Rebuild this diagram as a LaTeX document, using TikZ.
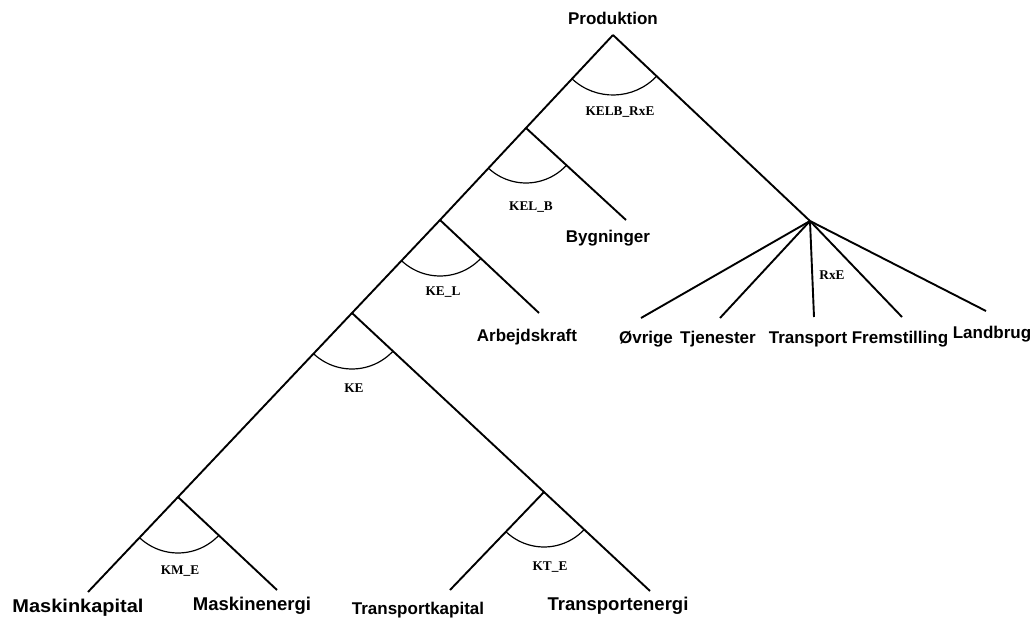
\documentclass[tikz,border=0pt]{standalone}
\usepackage{fontspec}
\setmainfont{Liberation Sans}
\newfontfamily\serifl{Liberation Serif}
\begin{document}
\begin{tikzpicture}[x=1pt,y=-1pt,
  lbl/.style={font=\fontsize{17}{20}\selectfont\bfseries, inner sep=0pt},
  blbl/.style={font=\fontsize{18.5}{21}\selectfont\bfseries, inner sep=0pt},
  rlbl/.style={font=\fontsize{17}{20}\selectfont\bfseries, inner sep=0pt, anchor=base},
  elab/.style={font=\serifl\fontsize{13.3}{15}\selectfont\bfseries, inner sep=0pt},
  branch/.style={line width=1.9pt},
  elast/.style={line width=1.2pt}]
\useasboundingbox (0,0) rectangle (1034,618);
% nests
\coordinate (P) at (613,35);
\coordinate (A) at (526,128);
\coordinate (R) at (810,221);
\coordinate (B) at (440,220);
\coordinate (C) at (352,313);
\coordinate (D) at (178,497);
\coordinate (E) at (544,492);
% leaf ends
\coordinate (byg) at (626,220);
\coordinate (arb) at (539,313);
\coordinate (mk) at (88,592);
\coordinate (me) at (277,590);
\coordinate (tk) at (450,590);
\coordinate (te) at (650,591);
\coordinate (r1) at (641,318);
\coordinate (r2) at (720,318);
\coordinate (r3) at (814,317);
\coordinate (r4) at (902,317);
\coordinate (r5) at (986,311);
% branches
\draw[branch] (P) -- (A) -- (B) -- (C) -- (D) -- (mk);
\draw[branch] (P) -- (R);
\draw[branch] (A) -- (byg);
\draw[branch] (B) -- (arb);
\draw[branch] (C) -- (E) -- (te);
\draw[branch] (D) -- (me);
\draw[branch] (E) -- (tk);
\foreach \e in {r1,r2,r3,r4,r5} \draw[branch] (R) -- (\e);
% elasticity arcs
\draw[elast] ([shift={(43.4:60)}]P) arc[start angle=43.4, end angle=133.3, radius=60];
\draw[elast] ([shift={(43.2:55)}]A) arc[start angle=43.2, end angle=133.3, radius=55];
\draw[elast] ([shift={(43.2:56)}]B) arc[start angle=43.2, end angle=133.3, radius=56];
\draw[elast] ([shift={(43.2:56)}]C) arc[start angle=43.2, end angle=133.3, radius=56];
\draw[elast] ([shift={(43.2:56)}]D) arc[start angle=43.2, end angle=133.3, radius=56];
\draw[elast] ([shift={(43.2:55)}]E) arc[start angle=43.2, end angle=133.5, radius=55];
% labels
\node[lbl] (nprod) at (613,18) {Produktion};
\node[lbl] (nbyg) at (608,238) {Bygninger};
\node[lbl] (narb) at (527,337) {Arbejdskraft};
\node[blbl] (nmk) at (78,608) {\scalebox{1.08}[1]{Maskinkapital}};
\node[blbl] (nme) at (252,606) {Maskinenergi};
\node[lbl] (ntk) at (418,610) {Transportkapital};
\node[blbl] (nte) at (618,606) {Transportenergi};
\node[rlbl] (nov) at (646,343) {Øvrige};
\node[rlbl] (ntj) at (718,343) {Tjenester};
\node[rlbl] (ntr) at (808,343) {Transport};
\node[rlbl] (nfr) at (900,343) {Fremstilling};
\node[rlbl] (nla) at (992,338) {Landbrug};
\node[elab] (e1) at (620,112) {KELB\_RxE};
\node[elab] (e2) at (531,207) {KEL\_B};
\node[elab] (e3) at (443,292) {KE\_L};
\node[elab] (e4) at (354,388) {KE};
\node[elab] (e5) at (180,571) {KM\_E};
\node[elab] (e6) at (550,567) {KT\_E};
\node[elab] (e7) at (832,275) {RxE};
\end{tikzpicture}
\end{document}
